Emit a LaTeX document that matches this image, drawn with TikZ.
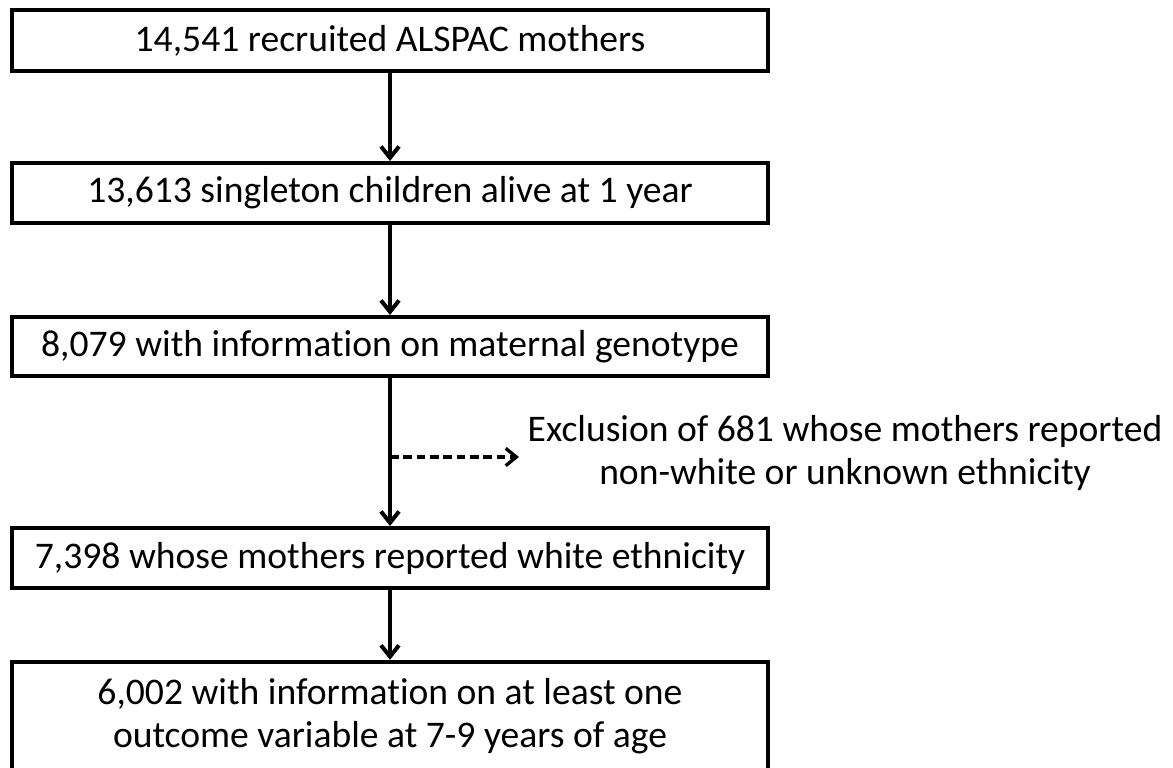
\documentclass[tikz,border=0pt]{standalone}
\usepackage{fontspec}
\setmainfont{Carlito}[Ligatures=NoCommon]
\usetikzlibrary{arrows.meta}
\begin{document}
\begin{tikzpicture}[x=0.75pt,y=-0.75pt,
  box/.style={draw=black,line width=3pt,minimum width=567pt,inner sep=0pt,align=center,font=\fontsize{28.2}{31.5}\selectfont},
  arr/.style={line width=3pt,-{Straight Barb[length=8.5pt,width=13.5pt,line width=3pt]}},
  darr/.style={line width=2.5pt,dash pattern=on 6.5pt off 3.5pt,-{Straight Barb[length=8pt,width=13pt,line width=2.5pt]}},
  lbl/.style={align=center,inner sep=0pt,font=\fontsize{28.2}{32}\selectfont}]
\useasboundingbox (0,0) rectangle (1173,767);
\node[box,minimum height=45.75pt] (b1) at (390,40.5) {14,541 recruited ALSPAC mothers};
\node[box,minimum height=45pt] (b2) at (390,193) {13,613 singleton children alive at 1 year};
\node[box,minimum height=44.25pt] (b3) at (390,346.5) {8,079 with information on maternal genotype};
\node[box,minimum height=45pt] (b4) at (390,558) {7,398 whose mothers reported white ethnicity};
\node[box,minimum height=85pt] (b5) at (390,718.5) {};
\node[lbl] (t5) at (390,716) {6,002 with information on at least one\\outcome variable at 7-9 years of age};
\node[lbl] (ex) at (845,453) {Exclusion of 681 whose mothers reported\\non-white or unknown ethnicity};
\coordinate (m) at (390,457);
\coordinate (e) at (519,457);
\draw[arr] (b1) -- (b2);
\draw[arr] (b2) -- (b3);
\draw[arr] (b3) -- (b4);
\draw[arr] (b4) -- (b5);
\draw[darr] (m) -- (e);
\end{tikzpicture}
\end{document}
